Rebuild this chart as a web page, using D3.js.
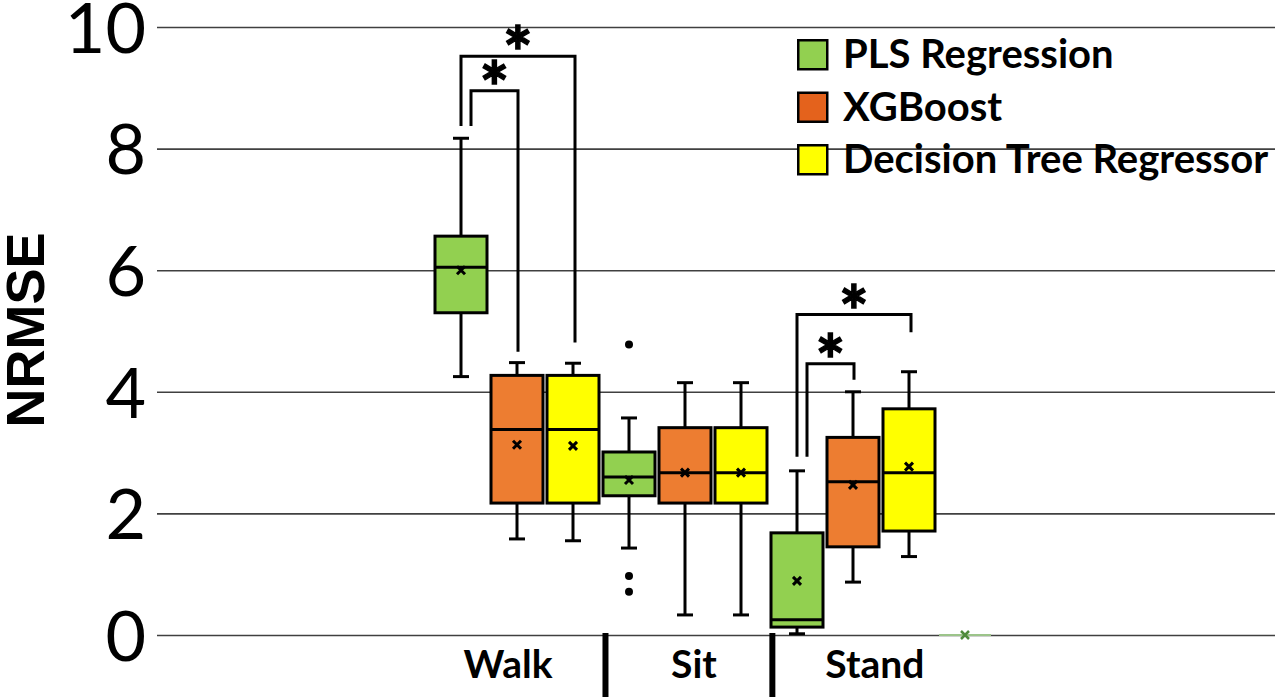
<!DOCTYPE html>
<html><head><meta charset="utf-8">
<script src="https://cdn.jsdelivr.net/npm/d3@7"></script>
<style>
html,body{margin:0;padding:0;background:#fff;}
svg{display:block;}
</style></head>
<body>
<svg id="chart" width="1280" height="697"></svg>
<script>
// ---------- data ----------
const categories = ["Walk", "Sit", "Stand"];
const models = ["PLS Regression", "XGBoost", "Decision Tree Regressor"];
const modelColors = ["#92d050", "#ed7d31", "#ffff00"];
const legendColors = ["#92d050", "#e4621c", "#ffff00"];
const yTicks = [0, 2, 4, 6, 8, 10];
// per model, per category (Walk, Sit, Stand)
const whiskerMin = [[4.25, 1.43, 0.02], [1.58, 0.33, 0.87], [1.55, 0.33, 1.29]];
const q1Values   = [[5.30, 2.29, 0.13], [2.17, 2.17, 1.45], [2.17, 2.17, 1.71]];
const medians    = [[6.05, 2.60, 0.25], [3.38, 2.67, 2.52], [3.38, 2.67, 2.67]];
const q3Values   = [[6.56, 3.01, 1.68], [4.27, 3.41, 3.25], [4.27, 3.41, 3.72]];
const whiskerMax = [[8.17, 3.57, 2.70], [4.48, 4.15, 4.00], [4.47, 4.15, 4.33]];
const means      = [[6.00, 2.55, 0.89], [3.13, 2.67, 2.47], [3.11, 2.67, 2.77]];
// outliers: [model, category, value]
const outliers = [[0, 1, 4.78], [0, 1, 0.97], [0, 1, 0.71]];
// empty trailing series box (all zero)
const emptyBox = [0, 0, 0, 0, 0];
// significance brackets: [category, model from, model to, top level, left leg end, right leg end]
const brackets = [
  ["Walk", 0, 2, 9.52, 8.37, 4.81],
  ["Walk", 0, 1, 8.95, 8.37, 4.66],
  ["Stand", 0, 2, 5.27, 2.93, 4.98],
  ["Stand", 0, 1, 4.46, 2.93, 4.20]
];

// ---------- layout ----------
const svg = d3.select("#chart");
const plotLeft = 157, plotRight = 1275;
const y = d3.scaleLinear().domain([0, 10]).range([635, 27]);
const slots = d3.range(10);
const x = d3.scalePoint().domain(slots).range([461, 965]);
const slotOf = (ci, mi) => ci * 3 + mi;
const boxW = 52, capW = 16;
const step = x.step();
const fx = s => x(0) + s * step; // fractional slot position

// gridlines + tick labels
const yAxis = d3.axisLeft(y).tickValues(yTicks).tickSize(-(plotRight - plotLeft)).tickPadding(11).tickFormat(d3.format("d"));
const ga = svg.append("g").attr("transform", `translate(${plotLeft},0)`).call(yAxis);
ga.select(".domain").remove();
ga.selectAll(".tick line").attr("stroke", "#404040").attr("stroke-width", 1.6);
ga.selectAll(".tick text").attr("font-family", "Lato, 'Open Sans', sans-serif").attr("font-size", 70).attr("fill", "#000").attr("dy", "0.36em");

// y-axis title
svg.append("text").attr("transform", "translate(44,330) rotate(-90)")
  .attr("text-anchor", "middle").attr("font-family", "'Liberation Sans', Arial, sans-serif")
  .attr("font-weight", "bold").attr("font-size", 54).text("NRMSE");

// empty box
const ex = x(9);
svg.append("line").attr("x1", ex - boxW / 2).attr("x2", ex + boxW / 2)
  .attr("y1", y(emptyBox[2])).attr("y2", y(emptyBox[2])).attr("stroke", "#9cc48a").attr("stroke-width", 2);
svg.append("path").attr("d", `M${ex-4},${y(0)-4}L${ex+4},${y(0)+4}M${ex-4},${y(0)+4}L${ex+4},${y(0)-4}`)
  .attr("stroke", "#4f8a3c").attr("stroke-width", 2.5);

// boxes
const boxes = [];
models.forEach((m, mi) => categories.forEach((c, ci) => boxes.push({mi, ci})));
const g = svg.append("g");
boxes.forEach(({mi, ci}) => {
  const cx = x(slotOf(ci, mi));
  const bg = g.append("g");
  bg.append("line").attr("x1", cx).attr("x2", cx).attr("y1", y(q3Values[mi][ci])).attr("y2", y(whiskerMax[mi][ci])).attr("stroke", "#000").attr("stroke-width", 3);
  bg.append("line").attr("x1", cx).attr("x2", cx).attr("y1", y(q1Values[mi][ci])).attr("y2", y(whiskerMin[mi][ci])).attr("stroke", "#000").attr("stroke-width", 3);
  [whiskerMax[mi][ci], whiskerMin[mi][ci]].forEach(v => {
    bg.append("line").attr("x1", cx - capW / 2).attr("x2", cx + capW / 2).attr("y1", y(v)).attr("y2", y(v)).attr("stroke", "#000").attr("stroke-width", 3);
  });
  bg.append("rect").attr("x", cx - boxW / 2).attr("width", boxW)
    .attr("y", y(q3Values[mi][ci])).attr("height", y(q1Values[mi][ci]) - y(q3Values[mi][ci]))
    .attr("fill", modelColors[mi]).attr("stroke", "#000").attr("stroke-width", 3);
  bg.append("line").attr("x1", cx - boxW / 2).attr("x2", cx + boxW / 2).attr("y1", y(medians[mi][ci])).attr("y2", y(medians[mi][ci])).attr("stroke", "#000").attr("stroke-width", 3);
  const my = y(means[mi][ci]), s = 4;
  bg.append("path").attr("d", `M${cx-s},${my-s}L${cx+s},${my+s}M${cx-s},${my+s}L${cx+s},${my-s}`).attr("stroke", "#000").attr("stroke-width", 3);
});
outliers.forEach(([mi, ci, v]) => {
  svg.append("circle").attr("cx", x(slotOf(ci, mi))).attr("cy", y(v)).attr("r", 4).attr("fill", "#000");
});

// significance brackets
const starSize = 70;
brackets.forEach(([cat, a, b, top, leftEnd, rightEnd], i) => {
  const ci = categories.indexOf(cat);
  const inner = b === 1;
  const x1 = x(slotOf(ci, a)) + (inner ? 10 : 0);
  const x2 = x(slotOf(ci, b)) + (inner ? 1 : 2);
  svg.append("path").attr("d", `M${x1},${y(leftEnd)}V${y(top)}H${x2}V${y(rightEnd)}`)
    .attr("fill", "none").attr("stroke", "#000").attr("stroke-width", 3);
  svg.append("text").attr("x", (x1 + x2) / 2).attr("y", y(top) - 18 + 0.59 * starSize)
    .attr("text-anchor", "middle").attr("font-family", "Lato, sans-serif").attr("font-weight", "bold")
    .attr("font-size", starSize).attr("stroke", "#000").attr("stroke-width", 1.4).text("*");
});

// category labels and separators
const labelSlots = [0.84, 4.16, 7.39];
const separatorSlots = [2.58, 5.56];
categories.forEach((c, i) => {
  svg.append("text").attr("x", fx(labelSlots[i])).attr("y", 678).attr("text-anchor", "middle")
    .attr("font-family", "Lato, sans-serif").attr("font-weight", "bold").attr("font-size", 39).text(c);
});
separatorSlots.forEach(s => {
  svg.append("line").attr("x1", fx(s)).attr("x2", fx(s)).attr("y1", y(0) - 2).attr("y2", 697).attr("stroke", "#000").attr("stroke-width", 6);
});

// legend
const lg = svg.append("g").attr("transform", "translate(797,39)");
models.forEach((m, i) => {
  const row = lg.append("g").attr("transform", `translate(0,${i * 52.5})`);
  row.append("rect").attr("x", 1.25).attr("y", 1.25).attr("width", 29).attr("height", 29)
    .attr("fill", legendColors[i]).attr("stroke", "#000").attr("stroke-width", 2.5);
  row.append("text").attr("x", 46).attr("y", 29).attr("font-family", "Lato, sans-serif")
    .attr("font-weight", "bold").attr("font-size", 40).text(m);
});
</script>
</body></html>
